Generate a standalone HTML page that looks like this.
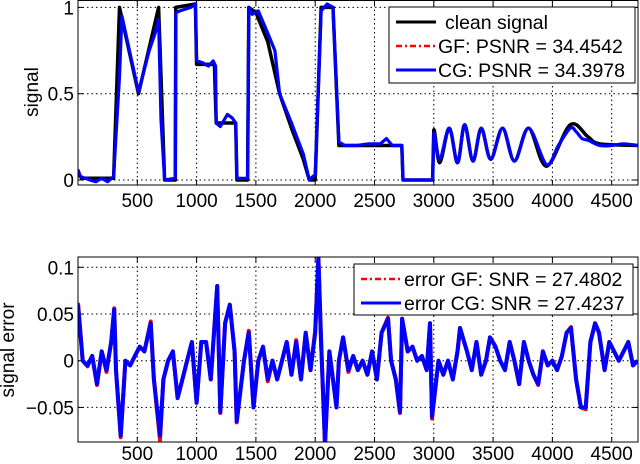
<!DOCTYPE html>
<html><head><meta charset="utf-8"><style>
body{margin:0;background:#fff;}
svg{display:block;font-family:"Liberation Sans",sans-serif;}
</style></head><body>
<svg id="c" width="640" height="464"></svg>
<script>
const xTicks=[500,1000,1500,2000,2500,3000,3500,4000,4500];
const topYTicks=[0,0.5,1];
const topYLabels=["0","0.5","1"];
const botYTicks=[-0.05,0,0.05,0.1];
const botYLabels=["\u22120.05","0","0.05","0.1"];
const cleanX=[0,30,300,350,510,680,730,820,825,990,1000,1150,1165,1330,1340,1430,1440,1500,1600,1700,1800,1900,1950,2000,2050,2150,2200,2730,2740,2990,3000,3050,3130,3200,3260,3330,3400,3480,3580,3680,3800,3950,4150,4300,4400,4720];
const cleanY=[0.04,0.01,0.01,1.0,0.5,1.0,0,0,1.0,1.02,0.67,0.67,0.33,0.33,0,0,1.0,0.97,0.8,0.5,0.3,0.12,0.0,0.0,1.0,1.0,0.2,0.2,0,0,0.29,0.1,0.3,0.1,0.32,0.11,0.3,0.12,0.3,0.11,0.3,0.08,0.32,0.25,0.21,0.2];
const cgX=[0,20,60,100,150,200,250,300,350,370,510,600,650,680,700,730,820,825,860,950,990,1000,1050,1100,1140,1160,1165,1200,1260,1300,1330,1340,1400,1430,1440,1470,1520,1600,1660,1700,1800,1900,1950,1980,2000,2050,2100,2150,2200,2250,2350,2450,2550,2600,2650,2730,2740,2850,2990,3000,3050,3130,3200,3260,3330,3400,3480,3580,3680,3800,3950,4050,4150,4200,4250,4300,4400,4500,4600,4720];
const cgY=[0.06,0.02,0.01,0.0,-0.01,0.01,-0.01,0.02,0.6,0.95,0.51,0.75,0.85,0.93,0.35,0,0.01,0.97,0.98,1.0,1.02,0.69,0.68,0.66,0.69,0.66,0.33,0.31,0.38,0.36,0.33,0.01,0.01,0.01,1.0,0.96,0.98,0.85,0.75,0.5,0.33,0.15,0.0,0.02,0.03,0.98,1.02,1.0,0.22,0.2,0.2,0.21,0.21,0.24,0.2,0.2,0.0,0.0,0.0,0.27,0.12,0.3,0.1,0.32,0.11,0.3,0.12,0.3,0.11,0.3,0.09,0.2,0.3,0.28,0.24,0.23,0.2,0.2,0.21,0.2];
const errX=[0,40,80,120,160,200,240,280,305,320,360,400,440,480,520,560,613,640,691,720,760,800,840,880,920,960,1000,1040,1080,1120,1174,1200,1240,1280,1320,1338,1400,1440,1480,1520,1560,1600,1640,1680,1720,1760,1800,1840,1880,1920,1960,2000,2027,2050,2083,2120,2180,2200,2235,2280,2320,2360,2400,2440,2480,2520,2560,2614,2640,2680,2715,2733,2780,2820,2860,2900,2940,2968,2985,3040,3080,3120,3160,3200,3221,3280,3320,3360,3400,3440,3474,3520,3560,3600,3640,3680,3720,3760,3800,3840,3880,3920,3960,4000,4040,4080,4120,4157,4200,4240,4281,4320,4360,4393,4440,4480,4520,4560,4600,4640,4680,4720];
const errCG=[0.06,0.0,-0.005,0.005,-0.025,0.01,-0.01,0.02,0.055,-0.01,-0.08,0.0,-0.005,0.005,0.015,0.01,0.04,-0.02,-0.08,-0.02,0.0,0.01,-0.04,-0.02,0.0,0.02,-0.045,0.02,0.02,-0.02,0.08,-0.055,0.04,0.06,0.01,-0.065,0.0,0.03,-0.05,0.0,0.015,-0.02,0.0,-0.02,0.0,0.02,-0.015,0.02,-0.02,0.03,-0.01,0.03,0.11,0.02,-0.09,0.01,-0.05,0.0,0.025,-0.01,0.005,-0.01,0.0,-0.015,0.01,-0.02,0.03,0.045,0.0,-0.02,-0.055,0.045,0.01,0.015,0.0,0.005,-0.01,0.04,-0.06,0.0,-0.015,0.0,-0.02,0.01,0.035,0.01,-0.01,0.02,-0.015,0.0,0.025,0.015,0.0,-0.01,0.02,0.0,-0.025,0.02,0.0,-0.015,-0.025,0.01,-0.005,0.0,-0.01,0.005,0.03,0.035,-0.02,-0.05,-0.05,0.02,0.04,0.03,-0.01,0.02,0.01,0.0,0.01,0.02,-0.005,0.0];
const errGF=[0.062,0.0,-0.006,0.005,-0.026,0.01,-0.012,0.02,0.056,-0.01,-0.082,0.0,-0.005,0.005,0.015,0.01,0.042,-0.02,-0.085,-0.02,0.0,0.01,-0.04,-0.02,0.0,0.02,-0.045,0.02,0.02,-0.02,0.08,-0.056,0.04,0.06,0.01,-0.066,0.0,0.032,-0.05,0.0,0.015,-0.022,0.0,-0.02,0.0,0.02,-0.015,0.022,-0.02,0.03,-0.01,0.032,0.11,0.02,-0.09,0.01,-0.05,0.0,0.025,-0.012,0.005,-0.01,0.0,-0.015,0.01,-0.02,0.03,0.046,0.0,-0.02,-0.056,0.045,0.01,0.015,0.0,0.005,-0.01,0.04,-0.062,0.0,-0.015,0.0,-0.02,0.01,0.035,0.01,-0.01,0.02,-0.015,0.0,0.025,0.015,0.0,-0.01,0.02,0.0,-0.025,0.02,0.0,-0.015,-0.026,0.01,-0.005,0.0,-0.01,0.005,0.03,0.036,-0.02,-0.05,-0.052,0.02,0.04,0.03,-0.01,0.02,0.01,0.0,0.01,0.02,-0.005,0.0];

const NS="http://www.w3.org/2000/svg";
const svg=document.getElementById('c');
function mk(tag,attrs,parent){const e=document.createElementNS(NS,tag);for(const k in attrs)e.setAttribute(k,attrs[k]);(parent||svg).appendChild(e);return e;}
const L=78,R=638,XMAX=(R-L)/0.1186;
const sx=v=>L+v*(R-L)/XMAX;
const pTop={t:0.5,b:185,y0:-0.029,y1:1.04,lab:22};
const pBot={t:257,b:442,y0:-0.087,y1:0.111,lab:18};
const sy=(p,v)=>p.b-(v-p.y0)/(p.y1-p.y0)*(p.b-p.t);
const FS=19;

function axes(p,yt,yl,name){
  const g=mk('g',{});
  
  
  xTicks.forEach(v=>{
    const gl=mk('line',{x1:sx(v),x2:sx(v),y1:p.t,y2:p.b,stroke:'#000','stroke-width':1,'stroke-dasharray':'1.5,3'},g);
    
    
    mk('line',{x1:sx(v),x2:sx(v),y1:p.b,y2:p.b-5,stroke:'#000'},g);
    mk('line',{x1:sx(v),x2:sx(v),y1:p.t,y2:p.t+5,stroke:'#000'},g);
    const t=mk('text',{x:sx(v),y:p.b+p.lab,'font-size':FS,'text-anchor':'middle'},g);
    t.textContent=v;
    
    
  });
  yt.forEach((v,i)=>{
    const gl=mk('line',{x1:L,x2:R,y1:sy(p,v),y2:sy(p,v),stroke:'#000','stroke-width':1,'stroke-dasharray':'1.5,3'},g);
    
    
    mk('line',{x1:L,x2:L+5,y1:sy(p,v),y2:sy(p,v),stroke:'#000'},g);
    mk('line',{x1:R,x2:R-5,y1:sy(p,v),y2:sy(p,v),stroke:'#000'},g);
    const t=mk('text',{x:L-4,y:sy(p,v)+7,'font-size':FS,'text-anchor':'end'},g);
    t.textContent=yl[i];
    
    
  });
}
// smooth (Catmull-Rom) for points with x >= smoothFrom
function line(p,xs,ys,attrs,name,smoothFrom){
  const P=xs.map((x,i)=>[sx(x),sy(p,ys[i])]);
  let d='M'+P[0][0].toFixed(1)+','+P[0][1].toFixed(1);
  for(let i=1;i<P.length;i++){
    if(smoothFrom!==undefined && xs[i-1]>=smoothFrom){
      const p0=P[Math.max(i-2,0)],p1=P[i-1],p2=P[i],p3=P[Math.min(i+1,P.length-1)];
      const c1=[p1[0]+(p2[0]-p0[0])/6,p1[1]+(p2[1]-p0[1])/6];
      const c2=[p2[0]-(p3[0]-p1[0])/6,p2[1]-(p3[1]-p1[1])/6];
      d+='C'+c1[0].toFixed(1)+','+c1[1].toFixed(1)+' '+c2[0].toFixed(1)+','+c2[1].toFixed(1)+' '+p2[0].toFixed(1)+','+p2[1].toFixed(1);
    } else d+='L'+P[i][0].toFixed(1)+','+P[i][1].toFixed(1);
  }
  const e=mk('path',Object.assign({d:d,fill:'none','stroke-linejoin':'round'},attrs));
  
  
}
function clip(p,id){const cp=mk('clipPath',{id:id});mk('rect',{x:L,y:p.t,width:R-L,height:p.b-p.t},cp);}
clip(pTop,'ct');clip(pBot,'cb');
axes(pTop,topYTicks,topYLabels,'top-axes');
axes(pBot,botYTicks,botYLabels,'bottom-axes');
line(pTop,cleanX,cleanY,{stroke:'#000','stroke-width':3.5,'clip-path':'url(#ct)'},'clean-signal-line',3000);
line(pTop,cgX,cgY,{stroke:'#f00','stroke-width':2,'stroke-dasharray':'6,3,2,3','clip-path':'url(#ct)'},'gf-signal-line',3000);
line(pTop,cgX,cgY,{stroke:'#0000ff','stroke-width':3.2,'clip-path':'url(#ct)'},'cg-signal-line',3000);
line(pBot,errX,errGF,{stroke:'#f00','stroke-width':4,'clip-path':'url(#cb)'},'gf-error-line');
line(pBot,errX,errCG,{stroke:'#0000ff','stroke-width':4,'clip-path':'url(#cb)'},'cg-error-line');
[pTop,pBot].forEach(p=>{const b=mk('rect',{x:L,y:p.t,width:R-L,height:p.b-p.t,fill:'none',stroke:'#000','stroke-width':1});

});

function ylab(txt,x,y,name){const t=mk('text',{x:x,y:y,'font-size':FS,'text-anchor':'middle',transform:`rotate(-90 ${x} ${y})`});t.textContent=txt;

}
ylab('signal',38,92,'top-y-axis-title');
ylab('signal error',14,350,'bottom-y-axis-title');

function legend(x,y,w,h,items,name){
  const g=mk('g',{});
  
  
  mk('rect',{x:x,y:y,width:w,height:h,fill:'#fff',stroke:'#000','stroke-width':1},g);
  items.forEach((it,i)=>{
    const yy=y+15+i*24;
    const e=mk('g',{},g);
    
    
    mk('line',Object.assign({x1:x+7,x2:x+47,y1:yy,y2:yy},it.s),e);
    const t=mk('text',{x:x+it.tx,y:yy+7,'font-size':19.5},e);t.textContent=it.t;
  });
}
legend(389,7,246,76,[
 {t:'clean signal',tx:56,s:{stroke:'#000','stroke-width':3}},
 {t:'GF: PSNR = 34.4542',tx:49,s:{stroke:'#f00','stroke-width':2.5,'stroke-dasharray':'6,3,2,3'}},
 {t:'CG: PSNR = 34.3978',tx:49,s:{stroke:'#0000ff','stroke-width':3}}],'top-legend');
legend(354,264,279,51,[
 {t:'error GF: SNR = 27.4802',tx:50,s:{stroke:'#f00','stroke-width':2.5,'stroke-dasharray':'6,3,2,3'}},
 {t:'error CG: SNR = 27.4237',tx:50,s:{stroke:'#0000ff','stroke-width':3}}],'bottom-legend');
</script>
</body></html>
